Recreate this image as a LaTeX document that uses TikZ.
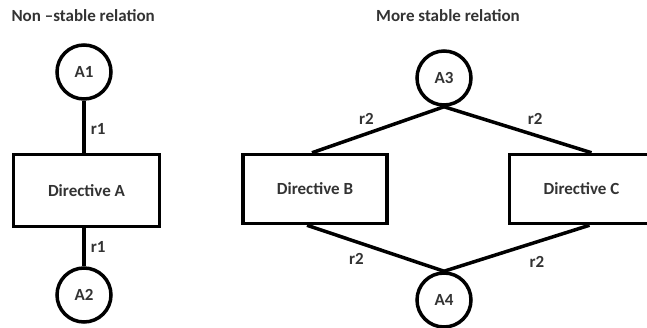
\documentclass[tikz,border=0pt]{standalone}
\usepackage{fontspec}
\setmainfont{Carlito}
\usepackage{tikz}
\usetikzlibrary{positioning, calc}

\begin{document}
\begin{tikzpicture}[
		x=1pt, y=-1pt,
		every node/.style={font=\fontsize{17}{20}\selectfont\bfseries, text=black!80},
		att/.style={draw=black,circle, minimum size=54pt, inner sep=0pt, line width=3.5pt},
		directive/.style={draw=black,rectangle, minimum width=144pt, minimum height=69pt, line width=3.5pt},
		rel/.style={draw=black, line width=3.5pt},
		lbl/.style={inner sep=1pt}
		]
		\useasboundingbox (0,0) rectangle (647,328);
		% Non stable side
		\node[att] at (84,72) (A1) {A1};
		\node[directive,below = 52pt of A1,minimum width=146pt,minimum height=72pt,xshift=2.5pt](dirA){Directive A};
		\node[att,below = 38pt of dirA,xshift=-2.5pt](A2){A2};
		
		% More stable side
		\node[att] at (444,78) (A3) {A3};
		\node[directive] at (315,189) (dirB) {Directive B};
		\node[directive,right = 119pt of dirB](dirC){Directive C};
		\node[att] at (444,300) (A4) {A4};
		
		% Denote
		\node[anchor=west] at (8,16) (titleL) {Non –stable relation};
		\node at (448,16) (titleR) {More stable relation};
		
		% draw lines
		\draw[rel] (A1) -- node[right,lbl,pos=0.55,xshift=4pt]{r1} (A1 |- dirA.north);
		\draw[rel] (A2 |- dirA.south) -- node[right,lbl,pos=0.5,xshift=4pt]{r1} (A2);
		
		\draw[rel] (A3.south) -- node[above left,lbl,pos=0.45,xshift=-8pt,yshift=0pt]{r2} ([xshift=-3pt]dirB.north);
		\draw[rel] (A3.south) -- node[above right,lbl,pos=0.55,yshift=5pt]{r2} ([xshift=10pt]dirC.north);
		\draw[rel] ([xshift=-8pt]dirB.south) -- node[below left,lbl,pos=0.5,xshift=-9pt,yshift=-2pt]{r2} (A4.north);
		\draw[rel] ([xshift=8pt]dirC.south) -- node[below right,lbl,pos=0.5,xshift=10pt,yshift=-5pt]{r2} (A4.north);
	\end{tikzpicture}
\end{document}
